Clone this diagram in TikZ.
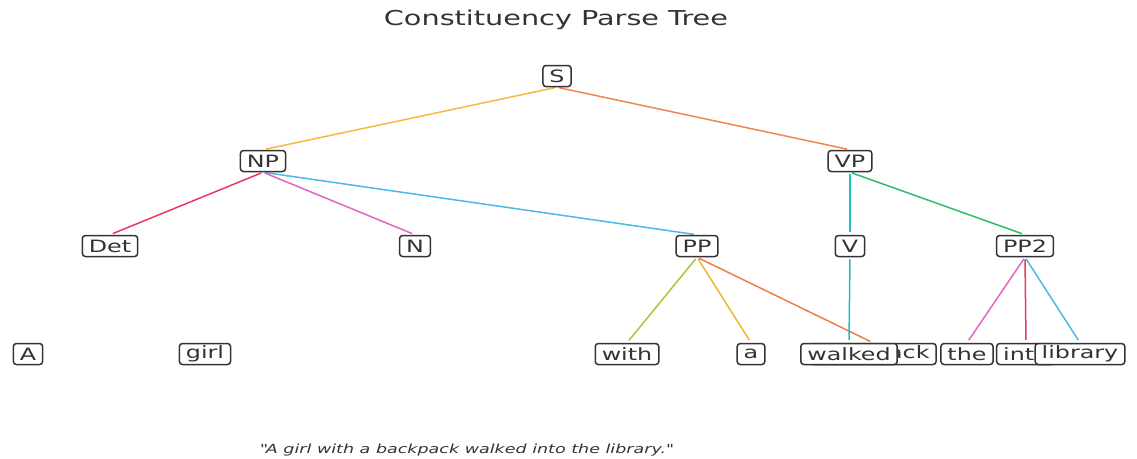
\documentclass[tikz,border=0pt]{standalone}
\usepackage{fontspec}
\setmainfont{DejaVu Sans}[FakeStretch=1.4]
\usetikzlibrary{backgrounds}

\definecolor{txtgray}{HTML}{333333}
\definecolor{cSNP}{HTML}{F5B942}
\definecolor{cSVP}{HTML}{EE8650}
\definecolor{cRed}{HTML}{E8395F}
\definecolor{cPink}{HTML}{E065C4}
\definecolor{cBlue}{HTML}{4BB8E8}
\definecolor{cTeal}{HTML}{1DBFBF}
\definecolor{cGreen}{HTML}{2DBE6C}
\definecolor{cLime}{HTML}{A5C83A}
\definecolor{cGold}{HTML}{F2B530}
\definecolor{cOrange}{HTML}{EE7E45}

\begin{document}
\begin{tikzpicture}[x=1pt,y=-1pt, line join=round, line cap=round,
	word/.style={draw=txtgray, text=txtgray, fill=white, line width=1.5pt, rounded corners=3pt,
		inner xsep=6.5pt, inner ysep=2pt, minimum height=21pt, font=\fontsize{17}{19}\selectfont},
	edge/.style={line width=1.5pt, shorten <=2pt, shorten >=3pt}]
	\useasboundingbox (0,0) rectangle (1137,458);
	\node[text=txtgray, font=\fontsize{20.5}{22}\selectfont] (title) at (556,20) {Constituency Parse Tree};
	% phrase nodes
	\node[word] (S) at (557,76) {S};
	\node[word] (NP) at (263,161) {NP};
	\node[word] (VP) at (850,161) {VP};
	\node[word] (Det) at (110,246) {Det};
	\node[word] (N) at (415,246) {N};
	\node[word] (PP) at (697,246) {PP};
	\node[word] (V) at (850,246) {V};
	\node[word] (PP2) at (1025,246) {PP2};
	% words, later ones drawn over earlier ones
	\node[word] (A) at (28,354) {A};
	\node[word] (girl) at (205,354) {girl};
	\node[word] (with) at (627,354) {with};
	\node[word] (a) at (751,354) {a};
	\node[word] (backpack) at (873,354) {backpack};
	\node[word] (walked) at (849,354) {walked};
	\node[word] (the) at (967,354) {the};
	\node[word] (into) at (1026,354) {into};
	\node[word] (library) at (1080,354) {library};
	\node[text=txtgray, font=\fontsize{12.5}{14}\selectfont\itshape] (sent) at (466,450)
		{\textquotedbl A girl with a backpack walked into the library.\textquotedbl};
	% branches
	\begin{scope}[on background layer]
		\foreach \p/\c/\col in {S/NP/cSNP, S/VP/cSVP, NP/Det/cRed, NP/N/cPink, NP/PP/cBlue,
			VP/V/cTeal, VP/PP2/cGreen, PP/with/cLime, PP/a/cGold, PP/backpack/cOrange,
			V/walked/cTeal, PP2/the/cPink, PP2/into/cRed, PP2/library/cBlue}
		{\draw[edge, \col] (\p.south) -- (\c.north);}
	\end{scope}
\end{tikzpicture}
\end{document}
